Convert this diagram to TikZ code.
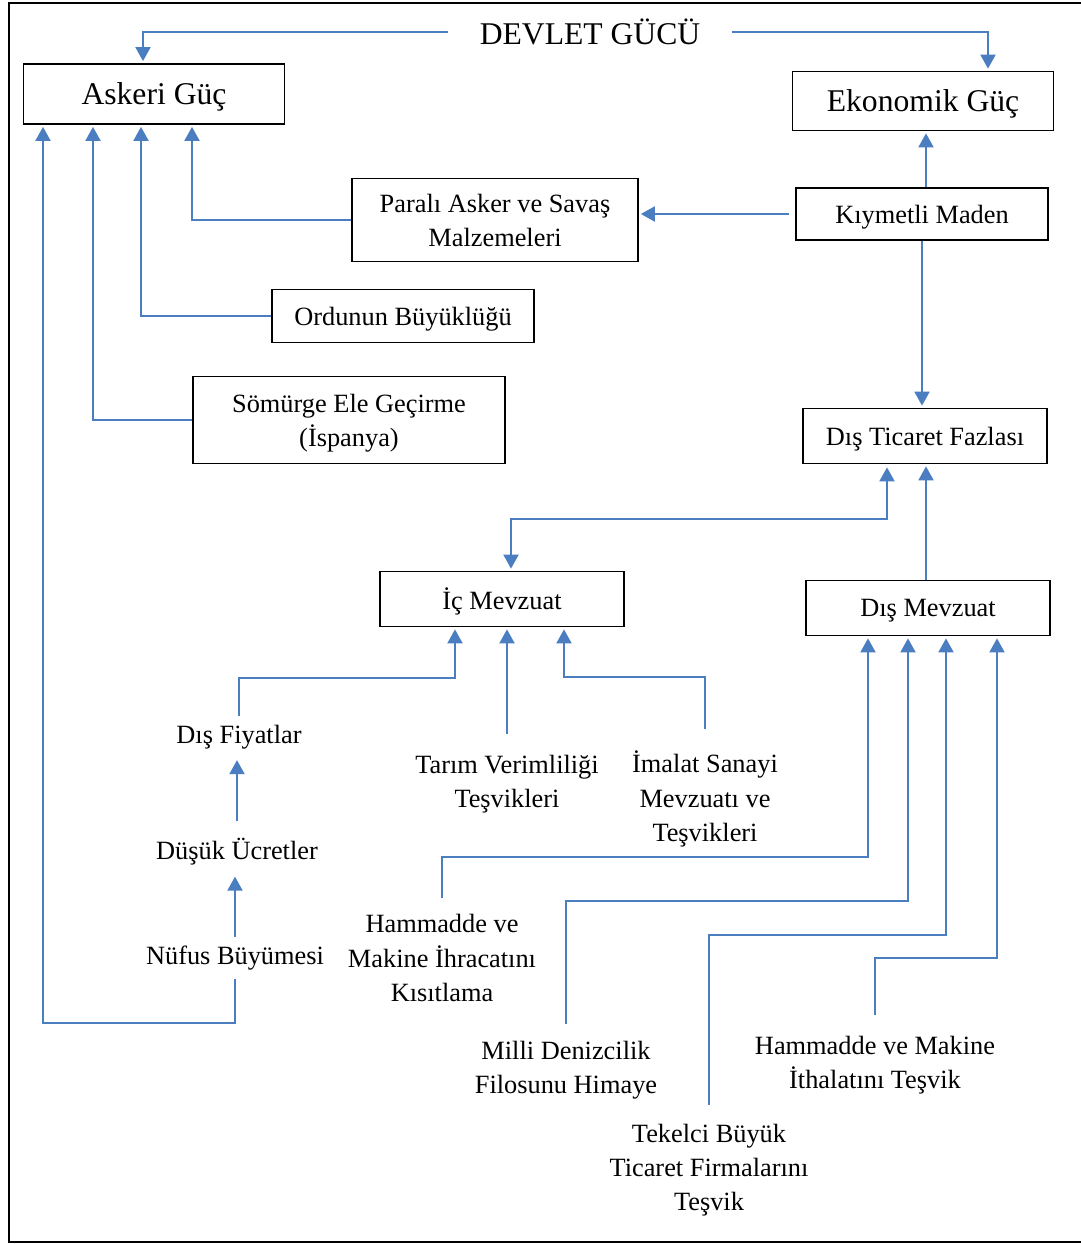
\documentclass[tikz,border=0pt]{standalone}
\usepackage{fontspec}
\setmainfont{Liberation Serif}
\usetikzlibrary{arrows.meta,calc}

\definecolor{linkblue}{RGB}{74,126,193}

\tikzset{
  box/.style={draw=black,line width=1pt,align=center,inner sep=0pt,
    text depth=0pt,font=\fontsize{15}{19.5}\selectfont},
  bigbox/.style={box,font=\fontsize{18}{22}\selectfont},
  lbl/.style={align=center,inner sep=5pt,font=\fontsize{15}{19.5}\selectfont},
  conn/.style={draw=linkblue,line width=1.1pt,->,shorten >=0.04cm},
}

\begin{document}
\begin{tikzpicture}[x=0.02cm,y=-0.02cm,>={Triangle[width=0.3cm,length=0.28cm]}]
  \useasboundingbox (0,0) rectangle (1081,1244);
  % outer frame
  \draw[line width=1.1pt] (1090,3) -- (9,3) -- (9,1242) -- (1090,1242);

  % title
  \node[inner xsep=0.62cm,font=\fontsize{18}{21}\selectfont] (devlet) at (590,32) {DEVLET GÜCÜ};

  % boxes
  \node[bigbox,minimum width=5.22cm,minimum height=1.2cm] (askeri) at (154,94) {Askeri Güç};
  \node[bigbox,minimum width=5.22cm,minimum height=1.18cm] (ekonomik) at (923,101) {Ekonomik Güç};
  \node[box,minimum width=5.04cm,minimum height=1.04cm] (kiymetli) at (922,214) {Kıymetli Maden};
  \node[box,minimum width=5.72cm,minimum height=1.66cm] (parali) at (495,220) {Paralı Asker ve Savaş\\Malzemeleri};
  \node[box,minimum width=5.24cm,minimum height=1.06cm] (ordunun) at (403,316) {Ordunun Büyüklüğü};
  \node[box,minimum width=6.24cm,minimum height=1.74cm] (somurge) at (349,420) {Sömürge Ele Geçirme\\(İspanya)};
  \node[box,minimum width=4.88cm,minimum height=1.1cm] (distic) at (925,436) {Dış Ticaret Fazlası};
  \node[box,minimum width=4.88cm,minimum height=1.1cm] (icmev) at (502,599) {İç Mevzuat};
  \node[box,minimum width=4.88cm,minimum height=1.1cm] (dismev) at (928,608) {Dış Mevzuat};

  % free labels
  \node[lbl] (disfiyat) at (239,737) {Dış Fiyatlar};
  \node[lbl] (tarim) at (507,784) {Tarım Verimliliği\\Teşvikleri};
  \node[lbl] (imalat) at (705,799) {İmalat Sanayi\\Mevzuatı ve\\Teşvikleri};
  \node[lbl] (dusuk) at (237,852) {Düşük Ücretler};
  \node[lbl] (nufus) at (235,958) {Nüfus Büyümesi};
  \node[lbl] (hamihr) at (442,958) {Hammadde ve\\Makine İhracatını\\Kısıtlama};
  \node[lbl] (milli) at (566,1070) {Milli Denizcilik\\Filosunu Himaye};
  \node[lbl] (tekelci) at (709,1170) {Tekelci Büyük\\Ticaret Firmalarını\\Teşvik};
  \node[lbl] (hamith) at (875,1065) {Hammadde ve Makine\\İthalatını Teşvik};

  % from the top
  \draw[conn] (devlet.west) -| ($(askeri.north)+(-11,0)$);
  \draw[conn] (devlet.east) -| ($(ekonomik.north)+(65,0)$);

  % into Askeri Güç
  \draw[conn] (parali.west) -| ($(askeri.south)+(38,0)$);
  \draw[conn] (ordunun.west) -| ($(askeri.south)+(-13,0)$);
  \draw[conn] (somurge.west) -| ($(askeri.south)+(-61,0)$);
  \draw[conn] (nufus.south) -- ++(0,44) -| ($(askeri.south)+(-111,0)$);

  % Kıymetli Maden
  \draw[conn] ($(kiymetli.north)+(4,0)$) -- ($(ekonomik.south)+(3,0)$);
  \draw[conn,shorten <=0.12cm] (kiymetli.west) -- (kiymetli.west -| parali.east);
  \draw[conn] (kiymetli.south) -- (kiymetli.south |- distic.north);

  % trade balance
  \draw[conn,<->,shorten <=0.06cm]
    ($(distic.south)+(-38,0)$) -- ++(0,55) -| ($(icmev.north)+(9,0)$);
  \draw[conn] ($(dismev.north)+(-2,0)$) -- ($(distic.south)+(1,0)$);

  % into İç Mevzuat
  \draw[conn] (disfiyat.north) -- ++(0,-38) -| ($(icmev.south)+(-47,0)$);
  \draw[conn] ($(tarim.north)+(0,-12)$) -- (tarim.north |- icmev.south);
  \draw[conn] ($(imalat.north)+(0,-13)$) -- ++(0,-52) -| ($(icmev.south)+(62,0)$);
  \draw[conn] ($(dusuk.north)+(0,-8)$) -- (dusuk.north |- disfiyat.south);
  \draw[conn] (nufus.north) -- (nufus.north |- dusuk.south);

  % into Dış Mevzuat
  \draw[conn] ($(hamihr.north)+(0,-7)$) -- ++(0,-41) -| ($(dismev.south)+(-60,0)$);
  \draw[conn] ($(milli.north)+(0,-8)$) -- ++(0,-123) -| ($(dismev.south)+(-20,0)$);
  \draw[conn] ($(tekelci.north)+(0,-10)$) -- ++(0,-170) -| ($(dismev.south)+(18,0)$);
  \draw[conn] ($(hamith.north)+(0,-12)$) -- ++(0,-57) -| ($(dismev.south)+(69,0)$);
\end{tikzpicture}
\end{document}
